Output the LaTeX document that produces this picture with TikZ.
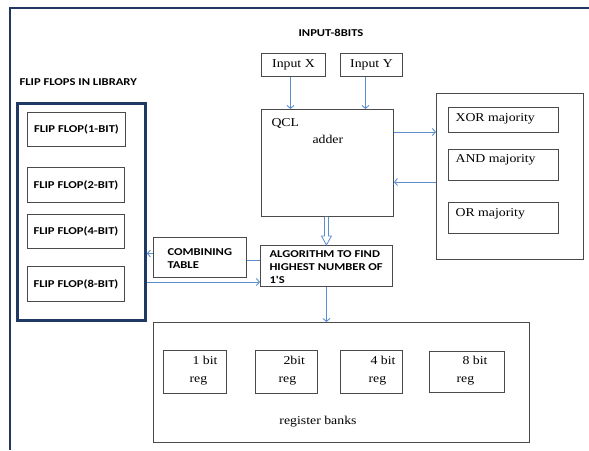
\documentclass[tikz,border=0pt]{standalone}
\usepackage{fontspec}
\setmainfont[FakeStretch=1.15]{Liberation Serif}
\newfontfamily\capsfont[FakeStretch=1.2]{Carlito}
\usepackage{tikz}
\usetikzlibrary{arrows.meta,positioning,calc}
\usepackage{xcolor}
\definecolor{framenavy}{HTML}{1F3864}
\definecolor{linkblue}{HTML}{5B8ED0}
\definecolor{boxgray}{HTML}{4A4A4A}

\begin{document}
\begin{tikzpicture}[x=1pt,y=-1pt,
  box/.style={draw=boxgray,line width=0.9pt,inner sep=0pt,anchor=north west},
  caps/.style={font=\capsfont\bfseries\fontsize{10.5}{13}\selectfont},
  plain/.style={font=\fontsize{12}{18}\selectfont},
  link/.style={draw=linkblue,line width=0.9pt,-{Straight Barb[length=3pt,width=7pt]}}]
  \useasboundingbox (0,0) rectangle (589,450);
  % outer frame
  \coordinate (fr1) at (589,8); \coordinate (fr2) at (10,8); \coordinate (fr3) at (10,450);
  \draw[framenavy,line width=2.5pt] (fr1)--(fr2)--(fr3);
  % flip flop library
  \node[caps,anchor=west] (libtitle) at (16,82) {FLIP FLOPS IN LIBRARY};
  \node[box,draw=framenavy,line width=2.8pt,minimum width=128,minimum height=217] (lib) at (16,102) {};
  \node[box,caps,minimum width=98,minimum height=34] (ff1) at (27,112) {FLIP FLOP(1-BIT)};
  \node[box,caps,minimum width=97,minimum height=35] (ff2) at (27,167) {FLIP FLOP(2-BIT)};
  \node[box,caps,minimum width=97,minimum height=34] (ff3) at (27,214) {FLIP FLOP(4-BIT)};
  \node[box,caps,minimum width=97,minimum height=35] (ff4) at (27,266) {FLIP FLOP(8-BIT)};
  % inputs and adder
  \node[caps] (intitle) at (331,33) {INPUT-8BITS};
  \node[box,plain,minimum width=64,minimum height=23] (inx) at (261,53) {Input X};
  \node[box,plain,minimum width=62,minimum height=23] (iny) at (340,53) {Input Y};
  \node[box,minimum width=132,minimum height=107] (qcl) at (261,109) {};
  \node[plain,anchor=west] (qcltxt) at (268,123) {QCL};
  \node[plain,anchor=west] (addtxt) at (309,139) {adder};
  % majority gates
  \node[box,minimum width=147,minimum height=166] (maj) at (436,93) {};
  \node[box,minimum width=110,minimum height=25] (xor) at (448,107) {};
  \node[box,minimum width=110,minimum height=31] (and) at (448,149) {};
  \node[box,minimum width=110,minimum height=31] (or) at (448,202) {};
  \node[plain,anchor=west] (xortxt) at (452,119) {XOR majority};
  \node[plain,anchor=west] (andtxt) at (452,160) {AND majority};
  \node[plain,anchor=west] (ortxt) at (452,214) {OR majority};
  % algorithm and table
  \node[box,minimum width=93,minimum height=40] (comb) at (153,237) {};
  \node[caps,align=left,anchor=west] (combtxt) at (164,259) {COMBINING\\TABLE};
  \node[box,minimum width=132,minimum height=41] (algo) at (260,245) {};
  \node[caps,align=left,anchor=west] (algotxt) at (266,267) {ALGORITHM TO FIND\\HIGHEST NUMBER OF\\1'S};
  % register banks
  \node[box,minimum width=376,minimum height=120] (bank) at (153,322) {};
  \node[box,minimum width=63,minimum height=43] (r1) at (163,350) {};
  \node[box,minimum width=62,minimum height=43] (r2) at (255,350) {};
  \node[box,minimum width=62,minimum height=43] (r3) at (340,350) {};
  \node[box,minimum width=75,minimum height=41] (r4) at (429,351) {};
  \node[plain,align=left,anchor=west] (r1txt) at (186,371) {\hspace*{3pt}1 bit\\reg};
  \node[plain,align=left,anchor=west] (r2txt) at (275,371) {\hspace*{5pt}2bit\\reg};
  \node[plain,align=left,anchor=west] (r3txt) at (365,371) {\hspace*{2pt}4 bit\\reg};
  \node[plain,align=left,anchor=west] (r4txt) at (453,371) {\hspace*{6pt}8 bit\\reg};
  \node[plain] (banktxt) at (318,422) {register banks};
  % connectors
  \draw[link] ([xshift=-3pt]inx.south) -- ([xshift=-3pt]inx.south |- qcl.north);
  \draw[link] ([xshift=-6pt]iny.south) -- ([xshift=-6pt]iny.south |- qcl.north);
  \draw[link] ([yshift=-23pt]qcl.north east) -- ([yshift=-23pt]qcl.north east -| maj.west);
  \draw[link] ([yshift=-73pt]qcl.north east -| maj.west) -- ([yshift=-73pt]qcl.north east);
  % hollow arrow from adder to algorithm
  \coordinate (ha) at ([xshift=-1pt]qcl.south);
  \coordinate (hb) at (ha |- algo.north);
  \draw[linkblue,line width=0.8pt,fill=white,line join=miter]
    ($(ha)+(-2,0)$) -- ($(hb)+(-2,-9)$) -- ($(hb)+(-5,-9)$) -- (hb)
    -- ($(hb)+(5,-9)$) -- ($(hb)+(2,-9)$) -- ($(ha)+(2,0)$);
  \draw[linkblue,line width=0.9pt] ([yshift=-15pt]algo.north west) -- ([yshift=-15pt]algo.north west -| comb.east);
  \draw[link] ([yshift=4pt]comb.west) -- ([yshift=4pt]comb.west -| lib.east);
  \draw[link] ([yshift=-37pt]algo.north west -| lib.east) -- ([yshift=-37pt]algo.north west);
  \draw[link] (algo.south) -- (algo.south |- bank.north);
\end{tikzpicture}
\end{document}
